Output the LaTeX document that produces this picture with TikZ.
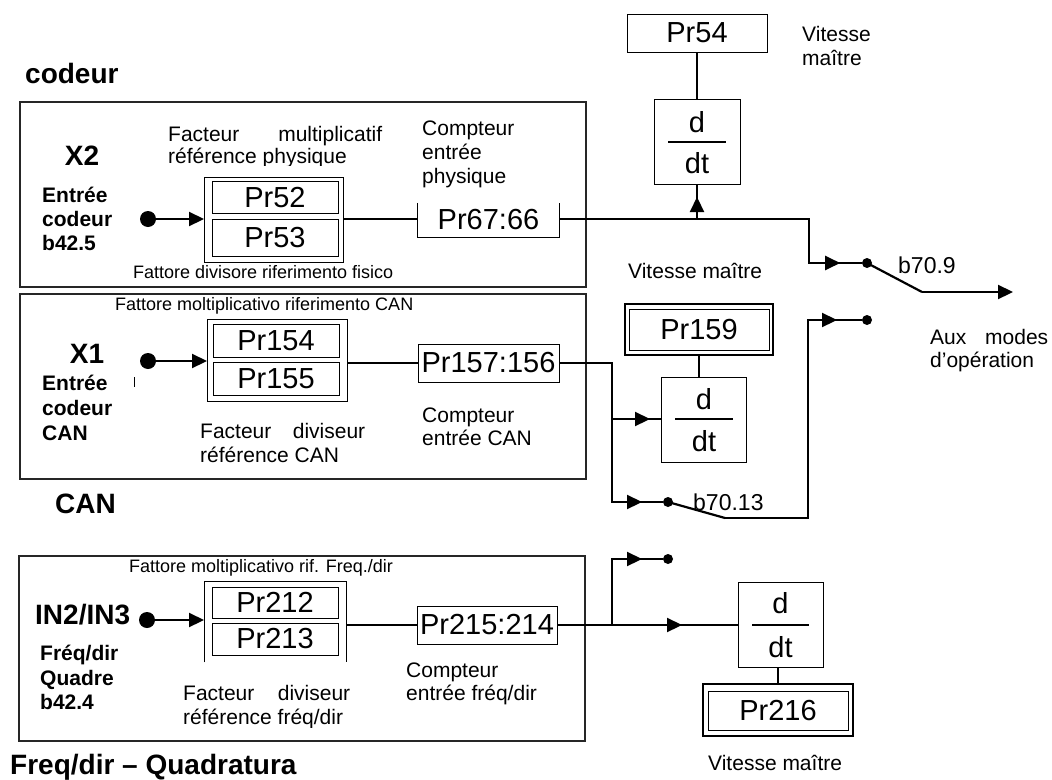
\documentclass[tikz,border=0pt]{standalone}
\usepackage{fontspec}
\setmainfont{Liberation Sans}
\usetikzlibrary{arrows.meta,decorations.markings}
\newcommand\fdesc{\fontsize{21}{25}\selectfont}
\newcommand\fital{\fontsize{18}{22}\selectfont}
\newcommand\fbl{\fontsize{21}{25}\selectfont\bfseries}
\newcommand\fbig{\fontsize{28}{32}\selectfont\bfseries}
\newcommand\fttl{\fontsize{28}{32}\selectfont\bfseries}
\newcommand\fpr{\fontsize{29}{33}\selectfont}
\newcommand\fsw{\fontsize{23}{27}\selectfont}
\begin{document}
\begin{tikzpicture}[x=1pt,y=-1pt,
  frame/.style={draw=black!85, line width=1.1pt},
  box/.style={draw, line width=1pt, inner sep=0pt, font=\fpr},
  plain/.style={draw, line width=1pt, inner sep=0pt},
  wire/.style={line width=2.2pt},
  thinwire/.style={line width=1.5pt},
  dot/.style={circle, fill, inner sep=0pt, minimum size=10pt},
  bigdot/.style={circle, fill, inner sep=0pt, minimum size=16pt},
  tip/.style={-{Triangle[length=15pt,width=14pt]}},
  marr/.style={postaction={decorate}, decoration={markings, mark=at position #1 with {\arrow{Triangle[length=15pt,width=14pt]}}}},
  txt/.style={inner sep=0pt, anchor=base west}
]
\useasboundingbox (0,0) rectangle (1052,779);

% titles
\node[txt, font=\fttl] (t1) at (25,83) {codeur};
\node[txt, font=\fttl] (t2) at (55,513) {CAN};
\node[txt, font=\fttl] (t3) at (10,774) {Freq/dir – Quadratura};

% frames
\draw[frame] (20,102) rectangle (586,287);
\draw[frame] (20,294) rectangle (586,479);
\draw[frame] (19,556) rectangle (585,741);

% ---------- block 1 ----------
\node[font=\fbig, inner sep=0pt, anchor=base] (x2) at (82,165) {X2};
\node[txt,font=\fbl] (e1a) at (42,202) {Entrée};
\node[txt,font=\fbl] (e1b) at (42,226) {codeur};
\node[txt,font=\fbl] (e1c) at (42,250) {b42.5};
\node[txt,font=\fdesc] (fm1) at (168,141) {\hbox to 214pt{Facteur\hfill multiplicatif}};
\begin{scope}
\clip (150,146) rectangle (400,165);
\node[txt,font=\fdesc] (fm2) at (168,163) {référence physique};
\end{scope}
\node[txt,font=\fdesc] (cp1a) at (422,135) {Compteur};
\node[txt,font=\fdesc] (cp1b) at (422,159) {entrée};
\node[txt,font=\fdesc] (cp1c) at (422,183) {physique};
\node[txt,font=\fital] (fd1) at (133,278) {Fattore divisore riferimento fisico};

\node[plain, minimum width=139pt, minimum height=85pt, anchor=north west] (db1) at (204,177) {};
\node[box, minimum width=126pt, minimum height=32pt] (pr52) at (275,197.5) {Pr52};
\node[box, minimum width=126pt, minimum height=37pt] (pr53) at (275,238) {Pr53};
\node[bigdot] (in1) at (148,219) {};
\draw[wire, tip] (in1) -- (in1 -| db1.west);
\node[inner sep=0pt, minimum width=141pt, minimum height=34pt, font=\fpr] (pr67) at (488.5,220) {Pr67:66};
\draw[line width=1pt] (pr67.north west) -- (pr67.south west) -- (pr67.south east) -- (pr67.north east);
\draw[wire] (in1 -| db1.east) -- (in1 -| pr67.west);

\coordinate (c1) at (809,219);
\coordinate (c2) at (809,263);
\coordinate (j1) at (697,219);
\node[dot] (s1a) at (867,263) {};
\draw[wire, marr=325pt] (in1 -| pr67.east) -- (c1) -- (c2) -- (s1a);
\coordinate (s1b) at (922,292);
\coordinate (out1) at (1013,292);
\draw[wire] (s1a.center) -- (s1b);
\draw[wire, tip] (s1b) -- (out1);
\node[txt,font=\fsw] (b709) at (898,273) {b70.9};
\node[dot] (s1c) at (867,320) {};

% d/dt 1 and Pr54
\node[plain, minimum width=86pt, minimum height=85pt] (ddt1) at (697,141.5) {};
\node[font=\fpr, inner sep=0pt] (d1) at (697,122) {d};
\node[font=\fpr, inner sep=0pt] (dt1) at (697,163) {dt};
\draw[thinwire] (668,142) -- (726,142);
\node[box, minimum width=140pt, minimum height=38pt] (pr54) at (697,33) {Pr54};
\draw[thinwire] (pr54.south) -- (ddt1.north);
\draw[wire, marr=22pt] (j1) -- (ddt1.south);

\node[txt,font=\fdesc] (vm1a) at (802,41) {Vitesse};
\node[txt,font=\fdesc] (vm1b) at (802,65) {maître};
\node[txt,font=\fdesc] (vm2) at (628,278) {Vitesse maître};
\node[txt,font=\fdesc] (aux1) at (930,344) {\hbox to 118pt{Aux\hfill modes}};
\node[txt,font=\fdesc] (aux2) at (930,367) {d’opération};

% ---------- block 2 ----------
\node[txt,font=\fital] (fm3) at (115,310) {Fattore moltiplicativo riferimento CAN};
\node[font=\fbig, inner sep=0pt, anchor=base] (x1) at (87,363) {X1};
\node[txt,font=\fbl] (e2a) at (42,390) {Entrée};
\node[txt,font=\fbl] (e2b) at (42,415) {codeur};
\node[txt,font=\fbl] (e2c) at (42,440) {CAN};
\draw[line width=0.8pt] (134,377) -- (134,387);

\node[plain, minimum width=140pt, minimum height=82pt, anchor=north west] (db2) at (207,319) {};
\node[box, minimum width=126pt, minimum height=33pt] (pr154) at (276,340.5) {Pr154};
\node[box, minimum width=126pt, minimum height=33pt] (pr155) at (276,378.5) {Pr155};
\node[bigdot] (in2) at (148,361) {};
\draw[wire, tip] (in2) -- (in2 -| db2.west);
\node[box, minimum width=141pt, minimum height=38pt] (pr157) at (488.5,363) {Pr157:156};
\draw[wire] (db2.east |- pr157) -- (pr157.west);
\node[txt,font=\fdesc] (fd2a) at (200,438) {\hbox to 165pt{Facteur\hfill diviseur}};
\node[txt,font=\fdesc] (fd2b) at (200,462) {référence CAN};
\node[txt,font=\fdesc] (cp2a) at (422,422) {Compteur};
\node[txt,font=\fdesc] (cp2b) at (422,445) {entrée CAN};

\coordinate (c3) at (612,363);
\coordinate (c4) at (612,502);
\coordinate (j2) at (612,419);
\node[dot] (s2a) at (668,502) {};
\draw[wire, marr=221.5pt] (pr157.east) -- (c3) -- (c4) -- (s2a);

\node[plain, minimum width=85pt, minimum height=85pt] (ddt2) at (703.5,419.5) {};
\node[font=\fpr, inner sep=0pt] (d2) at (704,399) {d};
\node[font=\fpr, inner sep=0pt] (dt2) at (704,441) {dt};
\draw[thinwire] (675,419) -- (733,419);
\draw[wire, marr=38pt] (j2) -- (j2 -| ddt2.west);
\node[draw, line width=2.5pt, minimum width=148pt, minimum height=51pt, inner sep=0pt] (pr159o) at (699,329.5) {};
\node[box, minimum width=140pt, minimum height=41pt] (pr159) at (699,329.5) {Pr159};
\draw[thinwire] (pr159o.south) -- (pr159o.south |- ddt2.north);

\coordinate (s2b) at (725,518);
\coordinate (c5) at (808,518);
\coordinate (c6) at (808,320);
\draw[wire] (s2a.center) -- (s2b);
\draw[wire, marr=310pt] (s2b) -- (c5) -- (c6) -- (s1c);
\node[txt,font=\fsw] (b7013) at (693,510) {b70.13};

% ---------- block 3 ----------
\node[txt,font=\fital] (fm4) at (129,572) {Fattore moltiplicativo rif. Freq./dir};
\node[txt,font=\fttl] (in23) at (35,624) {IN2/IN3};
\node[txt,font=\fbl] (e3a) at (40,660) {Fréq/dir};
\node[txt,font=\fbl] (e3b) at (40,685) {Quadre};
\node[txt,font=\fbl] (e3c) at (40,709) {b42.4};

\node[inner sep=0pt, minimum width=142pt, minimum height=81pt, anchor=north west] (db3) at (204,581) {};
\draw[line width=1pt] (db3.south west) -- (db3.north west) -- (db3.north east) -- (db3.south east);
\node[box, minimum width=126pt, minimum height=31pt] (pr212) at (275,602.5) {Pr212};
\node[box, minimum width=126pt, minimum height=32pt] (pr213) at (275,639) {Pr213};
\node[bigdot] (in3) at (147,620) {};
\draw[wire, tip] (in3) -- (in3 -| db3.west);
\node[box, minimum width=140pt, minimum height=38pt] (pr215) at (487,625) {Pr215:214};
\draw[wire] (db3.east |- pr215) -- (pr215.west);
\node[txt,font=\fdesc] (fd3a) at (183,700) {\hbox to 167pt{Facteur\hfill diviseur}};
\begin{scope}
\clip (150,705) rectangle (400,727);
\node[txt,font=\fdesc] (fd3b) at (183,724) {référence fréq/dir};
\end{scope}
\node[txt,font=\fdesc] (cp3a) at (406,677) {Compteur};
\node[txt,font=\fdesc] (cp3b) at (406,700) {entrée fréq/dir};

\coordinate (j3) at (612,625);
\coordinate (c7) at (612,559);
\node[dot] (d3dot) at (668,559) {};
\node[plain, minimum width=85pt, minimum height=85pt] (ddt3) at (780.5,624.5) {};
\node[font=\fpr, inner sep=0pt] (d3) at (780.5,603) {d};
\node[font=\fpr, inner sep=0pt] (dt3) at (780.5,647) {dt};
\draw[thinwire] (752,625) -- (809,625);
\draw[wire] (pr215.east) -- (j3);
\draw[wire, marr=70pt] (j3) -- (j3 -| ddt3.west);
\draw[wire, marr=96pt] (j3) -- (c7) -- (d3dot);

\node[draw, line width=2.5pt, minimum width=150pt, minimum height=52pt, inner sep=0pt] (pr216o) at (778,710) {};
\node[box, minimum width=140pt, minimum height=39pt] (pr216) at (778,710.5) {Pr216};
\draw[thinwire] (ddt3.south -| pr216o.north) -- (pr216o.north);
\node[txt,font=\fdesc] (vm3) at (708,770) {Vitesse maître};
\end{tikzpicture}
\end{document}
